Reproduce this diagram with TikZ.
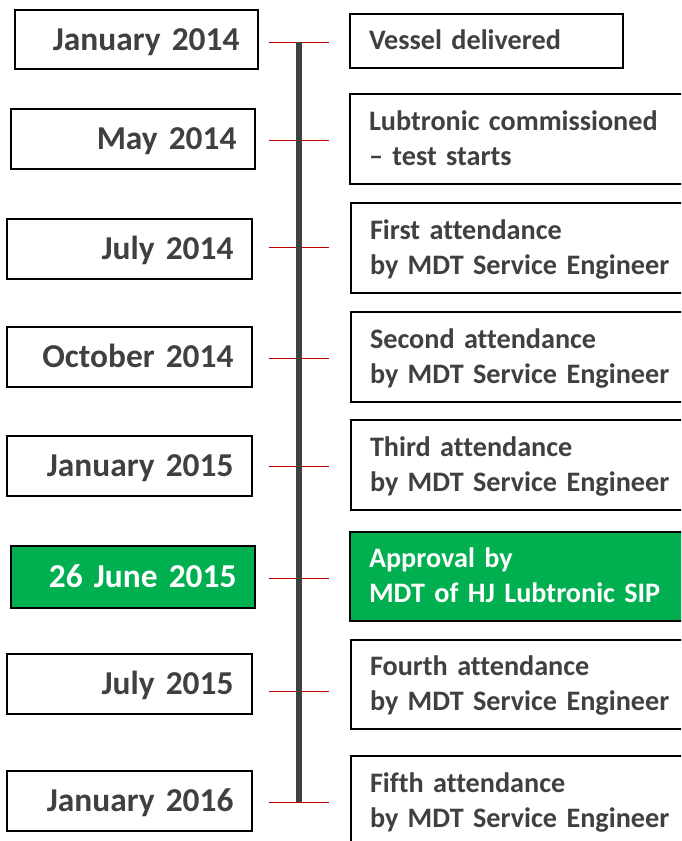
\documentclass[tikz,border=0pt]{standalone}
\usepackage{fontspec}
\setmainfont{Carlito}[Ligatures=NoCommon,WordSpace=0.85]
\definecolor{inkgray}{HTML}{404040}
\definecolor{okgreen}{HTML}{00B050}
\definecolor{tickred}{HTML}{C00000}
\begin{document}
\begin{tikzpicture}[x=1pt,y=-1pt,
  datebox/.style={draw=black,line width=1.6pt,inner sep=0pt,
    font=\bfseries\fontsize{33.4}{40}\selectfont,text=inkgray,
    align=right,text height=21.2pt,text depth=0pt},
  eventbox/.style={draw=black,line width=1.6pt,inner sep=0pt,
    font=\bfseries\fontsize{28.2}{35}\selectfont,text=inkgray,
    align=left,text height=17.8pt,text depth=35pt},
  eventone/.style={eventbox,text depth=0pt},
  keybox/.style={fill=okgreen,text=white},
  tick/.style={draw=tickred,line width=1pt},
  spine/.style={draw=inkgray,line width=6pt}]
\useasboundingbox (0,0) rectangle (681,841);
\clip (0,0) rectangle (681,841);

% date boxes: #1 name, #2 x0, #3 x1, #4 y0, #5 y1, #6 extra style
\newcommand\datenode[6]{%
  \node[datebox,#6,minimum width={#3-#2},minimum height={#5-#4},
        text width={#3-#2-37}] (#1) at ({(#2+#3)/2},{(#4+#5)/2})}
\newcommand\eventnode[6]{%
  \node[#6,minimum width={#3-#2},minimum height={#5-#4},
        text width={#3-#2-38}] (#1) at ({(#2+#3)/2},{(#4+#5)/2})}

\datenode{d1}{15}{258}{10}{69}{}{January 2014};
\datenode{d2}{11}{255}{109}{169}{}{May 2014};
\datenode{d3}{7}{252}{219}{279}{}{July 2014};
\datenode{d4}{7}{252}{327}{387}{}{October 2014};
\datenode{d5}{7}{252}{436}{496}{}{January 2015};
\datenode{d6}{11}{255}{546}{608}{keybox}{26 June 2015};
\datenode{d7}{7}{252}{654}{714}{}{July 2015};
\datenode{d8}{7}{252}{771}{831}{}{January 2016};

\eventnode{e1}{350}{623}{14}{68}{eventone}{Vessel delivered};
\eventnode{e2}{350}{700}{94}{184}{eventbox}{Lubtronic commissioned\\– test starts};
\eventnode{e3}{351}{700}{203}{293}{eventbox}{First attendance\\by MDT Service Engineer};
\eventnode{e4}{351}{700}{312}{402}{eventbox}{Second attendance\\by MDT Service Engineer};
\eventnode{e5}{351}{700}{420}{510}{eventbox}{Third attendance\\by MDT Service Engineer};
\eventnode{e6}{350}{700}{532}{621}{eventbox,keybox}{Approval by\\MDT of HJ Lubtronic SIP};
\eventnode{e7}{351}{700}{640}{729}{eventbox}{Fourth attendance\\by MDT Service Engineer};
\eventnode{e8}{351}{700}{756}{846}{eventbox}{Fifth attendance\\by MDT Service Engineer};

% tick marks on the time line
\foreach \n/\y in {1/42,2/140,3/247,4/358,5/466,6/578,7/691,8/802}{
  \coordinate (t\n) at (298.5,\y);
  \draw[tick] (t\n) ++(-30,0) -- ++(60,0);
}
% time line
\draw[spine] (t1) -- (t8);
\end{tikzpicture}
\end{document}
